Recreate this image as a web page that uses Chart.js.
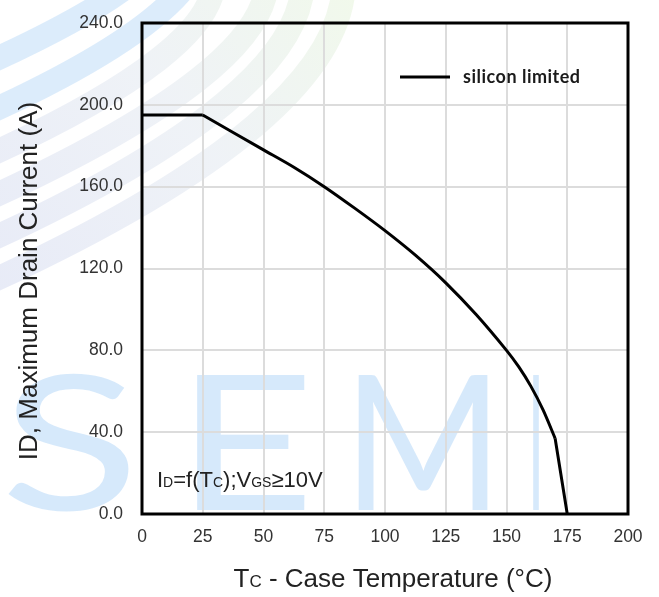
<!DOCTYPE html>
<html>
<head>
<meta charset="utf-8">
<script src="https://cdn.jsdelivr.net/npm/chart.js@4.4.1/dist/chart.umd.min.js"></script>
<style>
  html, body { margin: 0; padding: 0; background: #fff; }
  #wrap { width: 659px; height: 597px; position: relative; }
</style>
</head>
<body>
<div id="wrap"><canvas id="deratingChart"></canvas></div>
<script>
// data
const caseTemp = [0, 25, 50, 62.5, 75, 87.5, 100, 112.5, 125, 137.5, 150, 155, 160, 165, 170, 175];
const drainCurrent = [195, 195, 178, 169.5, 160, 149.5, 138.5, 126.5, 113, 97.5, 80, 72, 62.5, 51, 37, 0];
const xTickValues = [0, 25, 50, 75, 100, 125, 150, 175, 200];
const yTickValues = [0, 40, 80, 120, 160, 200, 240];
const seriesName = 'silicon limited';

const FONT = "'Liberation Sans', Arial, sans-serif";

const points = caseTemp.map((t, i) => ({ x: t, y: drainCurrent[i] }));
const last = points.length - 1;
// the curved middle part, and the two straight ends (flat top, final drop)
const curvedPart = points.slice(1, last);
const straightParts = [points[0], points[1], { x: 100, y: null }, points[last - 1], points[last]];

// draws text made of [string, isSmall] pieces on one baseline
function drawPieces(ctx, pieces, x, y, big, small, align) {
  let total = 0;
  pieces.forEach(p => {
    ctx.font = (p[1] ? small : big) + 'px ' + FONT;
    total += ctx.measureText(p[0]).width;
  });
  let cx = align === 'center' ? x - total / 2 : x;
  ctx.textAlign = 'left';
  ctx.textBaseline = 'alphabetic';
  pieces.forEach(p => {
    ctx.font = (p[1] ? small : big) + 'px ' + FONT;
    ctx.fillText(p[0], cx, y);
    cx += ctx.measureText(p[0]).width;
  });
}

// faint logo watermark: swept bands in the top left, "SEMI" letters at the bottom
function drawWatermark(ctx) {
  const grad = ctx.createLinearGradient(0, 300, 360, 0);
  grad.addColorStop(0, 'rgba(212, 218, 240, 0.55)');
  grad.addColorStop(0.55, 'rgba(226, 232, 240, 0.55)');
  grad.addColorStop(1, 'rgba(234, 246, 224, 0.65)');
  ctx.strokeStyle = grad;
  ctx.lineWidth = 24;
  ctx.lineCap = 'round';
  const bands = [[282, 344], [240, 303], [198, 267], [155, 214]];
  bands.forEach(b => {
    const y0 = b[0], xv = b[1];
    ctx.beginPath();
    ctx.moveTo(-10, y0);
    ctx.quadraticCurveTo(xv, y0 - 0.46 * (xv + 10), xv, -20);
    ctx.stroke();
  });
  ctx.strokeStyle = 'rgba(205, 228, 250, 0.7)';
  [[112, 150], [62, 95]].forEach(b => {
    ctx.beginPath();
    ctx.moveTo(-10, b[0]);
    ctx.quadraticCurveTo(b[1], b[0] - 0.46 * (b[1] + 10), b[1] + 40, -20);
    ctx.stroke();
  });

  ctx.fillStyle = 'rgba(200, 226, 250, 0.75)';
  ctx.font = '400 188px Lato, sans-serif';
  ctx.textBaseline = 'alphabetic';
  const letters = [['S', 0, 140], ['E', 175, 140], ['M', 343, 160], ['I', 528, 16]];
  letters.forEach(l => {
    const w = ctx.measureText(l[0]).width;
    ctx.save();
    ctx.translate(l[1], 510);
    ctx.scale(l[2] / w, 1);
    ctx.fillText(l[0], 0, 0);
    ctx.restore();
  });
}

const decorations = {
  id: 'decorations',
  beforeDraw(chart) {
    const ctx = chart.ctx;
    ctx.save();
    ctx.fillStyle = '#fff';
    ctx.fillRect(0, 0, chart.width, chart.height);
    drawWatermark(ctx);
    ctx.restore();
  },
  afterDraw(chart) {
    const ctx = chart.ctx;
    const a = chart.chartArea;
    ctx.save();
    // plot frame
    ctx.strokeStyle = '#000';
    ctx.lineWidth = 3;
    ctx.strokeRect(a.left, a.top, a.right - a.left, a.bottom - a.top);

    // legend
    ctx.beginPath();
    ctx.moveTo(a.right - 228, a.top + 54);
    ctx.lineTo(a.right - 178, a.top + 54);
    ctx.stroke();
    ctx.fillStyle = '#1a1a1a';
    ctx.font = 'bold 18px Lato, sans-serif';
    ctx.letterSpacing = '0.5px';
    ctx.textAlign = 'left';
    ctx.textBaseline = 'middle';
    ctx.fillText(seriesName, a.right - 165, a.top + 54);
    ctx.letterSpacing = '0px';

    // condition note
    ctx.fillStyle = '#222';
    drawPieces(ctx, [['I', 0], ['D', 1], ['=f(T', 0], ['C', 1], [');V', 0], ['GS', 1], ['\u226510V', 0]],
      a.left + 15, a.bottom - 27, 22, 14, 'left');

    // x axis title
    drawPieces(ctx, [['T', 0], ['C', 1], [' - Case Temperature (\u00b0C)', 0]],
      393, 587, 26, 17, 'center');

    // y axis title
    ctx.translate(37, 281);
    ctx.rotate(-Math.PI / 2);
    ctx.font = '26px ' + FONT;
    ctx.textAlign = 'center';
    ctx.textBaseline = 'alphabetic';
    ctx.fillText('ID, Maximum Drain Current (A)', 0, 0);
    ctx.restore();
  }
};

const lineStyle = { borderColor: '#000', borderWidth: 3, pointRadius: 0, fill: false };

new Chart(document.getElementById('deratingChart'), {
  type: 'line',
  data: {
    datasets: [
      Object.assign({ label: seriesName, data: curvedPart, tension: 0.3 }, lineStyle),
      Object.assign({ label: seriesName, data: straightParts, tension: 0, spanGaps: false }, lineStyle)
    ]
  },
  options: {
    responsive: true,
    maintainAspectRatio: false,
    animation: false,
    layout: { padding: { top: 23, right: 31, left: 0, bottom: 0 } },
    plugins: {
      legend: { display: false },
      tooltip: { enabled: false }
    },
    scales: {
      x: {
        type: 'linear',
        min: 0,
        max: 200,
        afterBuildTicks: s => { s.ticks = xTickValues.map(v => ({ value: v })); },
        afterFit: s => { s.height = 83; s.paddingLeft = 0; s.paddingRight = 0; },
        grid: { color: '#dcdcdc', lineWidth: 2, drawTicks: false },
        border: { display: false },
        ticks: { padding: 13, color: '#333', font: { family: FONT, size: 17.5 }, maxRotation: 0 }
      },
      y: {
        type: 'linear',
        min: 0,
        max: 240,
        afterBuildTicks: s => { s.ticks = yTickValues.map(v => ({ value: v })); },
        afterFit: s => { s.width = 142; s.paddingTop = 0; s.paddingBottom = 0; },
        grid: { color: '#dcdcdc', lineWidth: 2, drawTicks: false },
        border: { display: false },
        ticks: { padding: 19, color: '#333', font: { family: FONT, size: 17.5 },
                 callback: v => Number(v).toFixed(1) }
      }
    }
  },
  plugins: [decorations]
});
</script>
</body>
</html>
